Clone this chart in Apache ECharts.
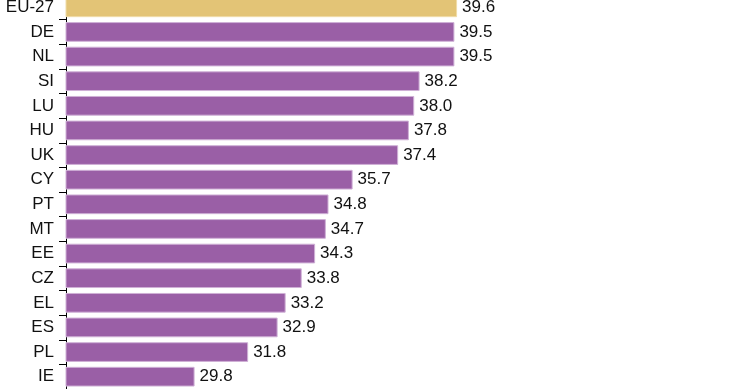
<!DOCTYPE html>
<html>
<head>
<meta charset="utf-8">
<style>html,body{margin:0;padding:0;background:#fff;overflow:hidden;width:740px;height:389px;}#c{position:absolute;left:0;top:-5px;width:740px;height:394px;}</style>
<script src="https://cdn.jsdelivr.net/npm/echarts@6/dist/echarts.min.js"></script>
</head>
<body>
<div id="c"></div>
<script>
var categories = ["EU-27","DE","NL","SI","LU","HU","UK","CY","PT","MT","EE","CZ","EL","ES","PL","IE"];
var values = [39.6,39.5,39.5,38.2,38.0,37.8,37.4,35.7,34.8,34.7,34.3,33.8,33.2,32.9,31.8,29.8];
var highlight = "EU-27";

var FONT = '"Liberation Sans",Arial,sans-serif';
var chart = echarts.init(document.getElementById('c'), null, {renderer:'canvas'});
chart.setOption({
  animation:false,
  backgroundColor:'#fff',
  grid:{left:66, right:7, top:0, bottom:0, containLabel:false},
  xAxis:{type:'value', min:25, max:49.9, show:false},
  yAxis:{type:'category', inverse:true, data:categories,
    axisLine:{show:true, lineStyle:{color:'#000', width:1}},
    axisTick:{show:true, interval:0, length:7, lineStyle:{color:'#000', width:1}},
    axisLabel:{interval:0, margin:12, color:'#111', fontSize:17, fontFamily:FONT},
    splitLine:{show:false}},
  series:[{type:'bar', barCategoryGap:'20%',
    data:values.map(function(v,i){return {value:v, itemStyle:{color: categories[i]===highlight ? '#e3c476' : '#9a5fa6', borderColor: categories[i]===highlight ? '#f0dca8' : '#cfb0d6', borderWidth:1}};}),
    label:{show:true, position:'right', distance:5, color:'#111', fontSize:17, fontFamily:FONT,
      formatter:function(p){return p.value.toFixed(1);}}
  }]
});
</script>
</body>
</html>
